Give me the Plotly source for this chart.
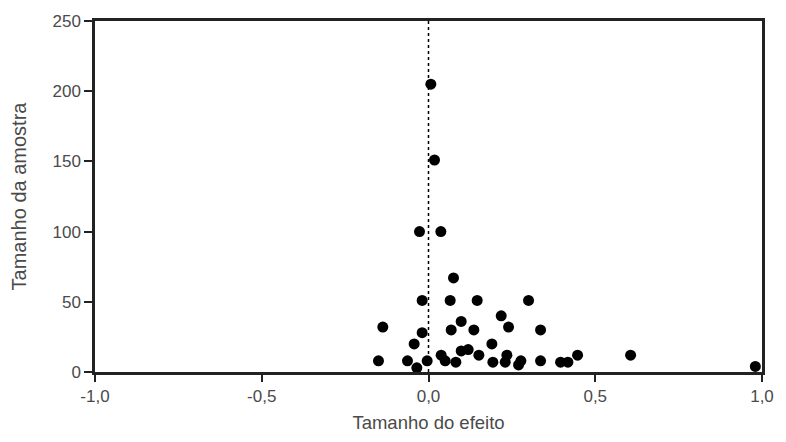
import plotly.graph_objects as go

# Effect size (x) and sample size (y) for each study in the funnel plot
effect_size = [
    0.007, 0.018, -0.027, 0.037,
    0.075, -0.019, 0.065, 0.146, 0.300,
    -0.137, -0.019, 0.068, 0.098, 0.136, 0.218, 0.240, 0.336,
    -0.043, -0.150, -0.063, -0.035, -0.004, 0.038, 0.050, 0.082,
    0.098, 0.119, 0.151, 0.190, 0.193, 0.230, 0.235, 0.270, 0.277,
    0.336, 0.396, 0.418, 0.447, 0.606, 0.980,
]
sample_size = [
    205, 151, 100, 100,
    67, 51, 51, 51, 51,
    32, 28, 30, 36, 30, 40, 32, 30,
    20, 8, 8, 3, 8, 12, 8, 7,
    15, 16, 12, 20, 7, 7, 12, 5, 8,
    8, 7, 7, 12, 12, 4,
]

x_ticks = [-1.0, -0.5, 0.0, 0.5, 1.0]
x_tick_labels = ["-1,0", "-0,5", "0,0", "0,5", "1,0"]
y_ticks = [0, 50, 100, 150, 200, 250]

text_color = "#4a4a4a"
font_family = "Liberation Sans, Arial, sans-serif"

fig = go.Figure()
fig.add_trace(go.Scatter(
    x=effect_size,
    y=sample_size,
    mode="markers",
    marker=dict(size=11, color="black"),
    cliponaxis=False,
    hoverinfo="x+y",
))

# Vertical dotted reference line at zero effect
fig.add_shape(
    type="line", xref="x", yref="paper",
    x0=0, x1=0, y0=0, y1=1,
    line=dict(color="black", width=1.5, dash="dot"),
    layer="below",
)

fig.update_layout(
    width=786, height=442,
    margin=dict(l=95, r=15, t=17, b=66),
    paper_bgcolor="white",
    plot_bgcolor="white",
    showlegend=False,
    font=dict(family=font_family, size=17, color=text_color),
    xaxis=dict(
        range=[-1.0, 1.0],
        tickvals=x_ticks,
        ticktext=x_tick_labels,
        ticks="outside", ticklen=7, tickwidth=1.5, tickcolor="#222222",
        showline=True, linecolor="#222222", linewidth=2.5, mirror=True,
        showgrid=False, zeroline=False,
        title=dict(text="Tamanho do efeito", standoff=11,
                   font=dict(size=18.5, color=text_color)),
    ),
    yaxis=dict(
        range=[0, 250],
        tickvals=y_ticks,
        ticks="outside", ticklen=8, tickwidth=1.5, tickcolor="#222222",
        showline=True, linecolor="#222222", linewidth=2.5, mirror=True,
        showgrid=False, zeroline=False,
        title=dict(text="Tamanho da amostra", standoff=21,
                   font=dict(size=20, color=text_color)),
    ),
)

fig.write_html("out.html")
